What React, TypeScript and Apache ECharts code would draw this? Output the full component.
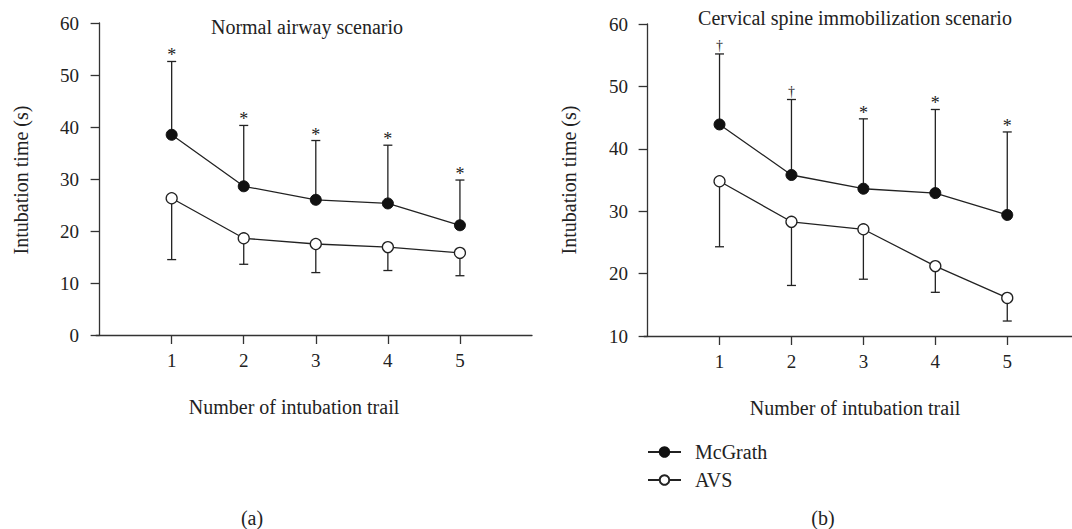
import React, { useEffect, useRef } from "react";
import * as echarts from "echarts";

const trials = [1, 2, 3, 4, 5];

// (a) Normal airway scenario
const normalMcGrath = [38.5, 28.6, 26.0, 25.3, 21.1];
const normalMcGrathUpper = [52.6, 40.3, 37.4, 36.5, 29.8];
const normalAVS = [26.3, 18.6, 17.5, 16.9, 15.8];
const normalAVSLower = [14.5, 13.6, 12.0, 12.4, 11.4];
const normalSig = ["*", "*", "*", "*", "*"];

// (b) Cervical spine immobilization scenario
const cervMcGrath = [43.9, 35.8, 33.6, 32.9, 29.4];
const cervMcGrathUpper = [55.2, 47.9, 44.8, 46.3, 42.7];
const cervAVS = [34.8, 28.3, 27.1, 21.2, 16.1];
const cervAVSLower = [24.3, 18.1, 19.1, 17.0, 12.4];
const cervSig = ["†", "†", "*", "*", "*"];

const FONT = "'Liberation Serif', 'DejaVu Serif', serif";
const INK = "#222";
const AXIS = "#333";

function errorBar(xIdx: number, means: number[], bounds: number[], signs: string[] | null) {
  return {
    type: "custom",
    xAxisIndex: xIdx,
    yAxisIndex: xIdx,
    z: 1,
    silent: true,
    data: trials.map((t, i) => [t, means[i], bounds[i]]),
    encode: { x: 0, y: [1, 2] },
    renderItem: (params: any, api: any) => {
      const x = api.value(0);
      const m = api.value(1);
      const b = api.value(2);
      const p0 = api.coord([x, m]);
      const p1 = api.coord([x, b]);
      const half = 4.5;
      const children: any[] = [
        { type: "line", shape: { x1: p0[0], y1: p0[1], x2: p1[0], y2: p1[1] }, style: { stroke: INK, lineWidth: 1.3 } },
        { type: "line", shape: { x1: p1[0] - half, y1: p1[1], x2: p1[0] + half, y2: p1[1] }, style: { stroke: INK, lineWidth: 1.3 } },
      ];
      if (signs) {
        const s = signs[params.dataIndex];
        const isDagger = s === "†";
        children.push({
          type: "text",
          x: p1[0],
          y: p1[1] + (isDagger ? -1 : 3),
          style: {
            text: s,
            fill: INK,
            font: `${isDagger ? 14 : 18}px ${FONT}`,
            textAlign: "center",
            textVerticalAlign: "bottom",
          },
        });
      }
      return { type: "group", children };
    },
  };
}

function lineSeries(name: string, idx: number, values: number[], filled: boolean) {
  return {
    name,
    type: "line",
    xAxisIndex: idx,
    yAxisIndex: idx,
    z: 3,
    data: trials.map((t, i) => [t, values[i]]),
    symbol: "circle",
    symbolSize: 11,
    lineStyle: { color: INK, width: 1.3 },
    itemStyle: filled
      ? { color: "#111", borderColor: "#111", borderWidth: 1 }
      : { color: "#fff", borderColor: INK, borderWidth: 1.3 },
    emphasis: { disabled: true },
  };
}

const axisCommon = {
  axisLine: { show: true, lineStyle: { color: AXIS, width: 1.3 } },
  axisTick: { show: true, inside: false, length: 9, lineStyle: { color: AXIS, width: 1.3 } },
  splitLine: { show: false },
  axisLabel: { color: INK, fontFamily: FONT, fontSize: 19 },
};

export default function App() {
  const ref = useRef<HTMLDivElement>(null);
  useEffect(() => {
    if (!ref.current) return;
    const chart = echarts.init(ref.current, null, { renderer: "svg" });
    const xAxisFor = (gi: number, max: number) => ({
      type: "value",
      gridIndex: gi,
      min: -0.05,
      max,
      ...axisCommon,
      axisTick: { ...axisCommon.axisTick, customValues: trials },
      axisLabel: { ...axisCommon.axisLabel, margin: 16, customValues: trials },
    });
    const option: any = {
      animation: false,
      backgroundColor: "#fff",
      grid: [
        { left: 96, top: 23, width: 436, height: 312 },
        { left: 644, top: 24, width: 428, height: 312 },
      ],
      xAxis: [xAxisFor(0, 6.0), xAxisFor(1, 5.9)],
      yAxis: [
        { type: "value", gridIndex: 0, min: 0, max: 60, interval: 10, ...axisCommon, axisLabel: { ...axisCommon.axisLabel, margin: 17 } },
        { type: "value", gridIndex: 1, min: 10, max: 60, interval: 10, ...axisCommon, axisLabel: { ...axisCommon.axisLabel, margin: 16 } },
      ],
      legend: {
        orient: "vertical",
        left: 647,
        top: 442,
        padding: 0,
        itemWidth: 33,
        itemHeight: 12,
        itemGap: 8,
        selectedMode: false,
        textStyle: { color: INK, fontFamily: FONT, fontSize: 20, padding: [0, 0, 0, 9] },
        data: ["McGrath", "AVS"],
      },
      graphic: [
        { type: "text", x: 307, y: 27, style: { text: "Normal airway scenario", font: `20px ${FONT}`, fill: INK, textAlign: "center", textVerticalAlign: "middle" } },
        { type: "text", x: 855, y: 18, style: { text: "Cervical spine immobilization scenario", font: `20px ${FONT}`, fill: INK, textAlign: "center", textVerticalAlign: "middle" } },
        { type: "text", x: 294, y: 407, style: { text: "Number of intubation trail", font: `20px ${FONT}`, fill: INK, textAlign: "center", textVerticalAlign: "middle" } },
        { type: "text", x: 855, y: 408, style: { text: "Number of intubation trail", font: `20px ${FONT}`, fill: INK, textAlign: "center", textVerticalAlign: "middle" } },
        { type: "text", x: 21, y: 180, rotation: Math.PI / 2, style: { text: "Intubation time (s)", font: `20px ${FONT}`, fill: INK, textAlign: "center", textVerticalAlign: "middle" } },
        { type: "text", x: 569, y: 180, rotation: Math.PI / 2, style: { text: "Intubation time (s)", font: `20px ${FONT}`, fill: INK, textAlign: "center", textVerticalAlign: "middle" } },
        { type: "text", x: 252, y: 518, style: { text: "(a)", font: `20px ${FONT}`, fill: INK, textAlign: "center", textVerticalAlign: "middle" } },
        { type: "text", x: 823, y: 518, style: { text: "(b)", font: `20px ${FONT}`, fill: INK, textAlign: "center", textVerticalAlign: "middle" } },
      ],
      series: [
        errorBar(0, normalMcGrath, normalMcGrathUpper, normalSig),
        errorBar(0, normalAVS, normalAVSLower, null),
        lineSeries("McGrath", 0, normalMcGrath, true),
        lineSeries("AVS", 0, normalAVS, false),
        errorBar(1, cervMcGrath, cervMcGrathUpper, cervSig),
        errorBar(1, cervAVS, cervAVSLower, null),
        lineSeries("McGrath", 1, cervMcGrath, true),
        lineSeries("AVS", 1, cervAVS, false),
      ],
    };
    chart.setOption(option);
    return () => chart.dispose();
  }, []);
  return <div ref={ref} style={{ position: "absolute", left: 0, top: 0, width: 1072, height: 529 }} />;
}
